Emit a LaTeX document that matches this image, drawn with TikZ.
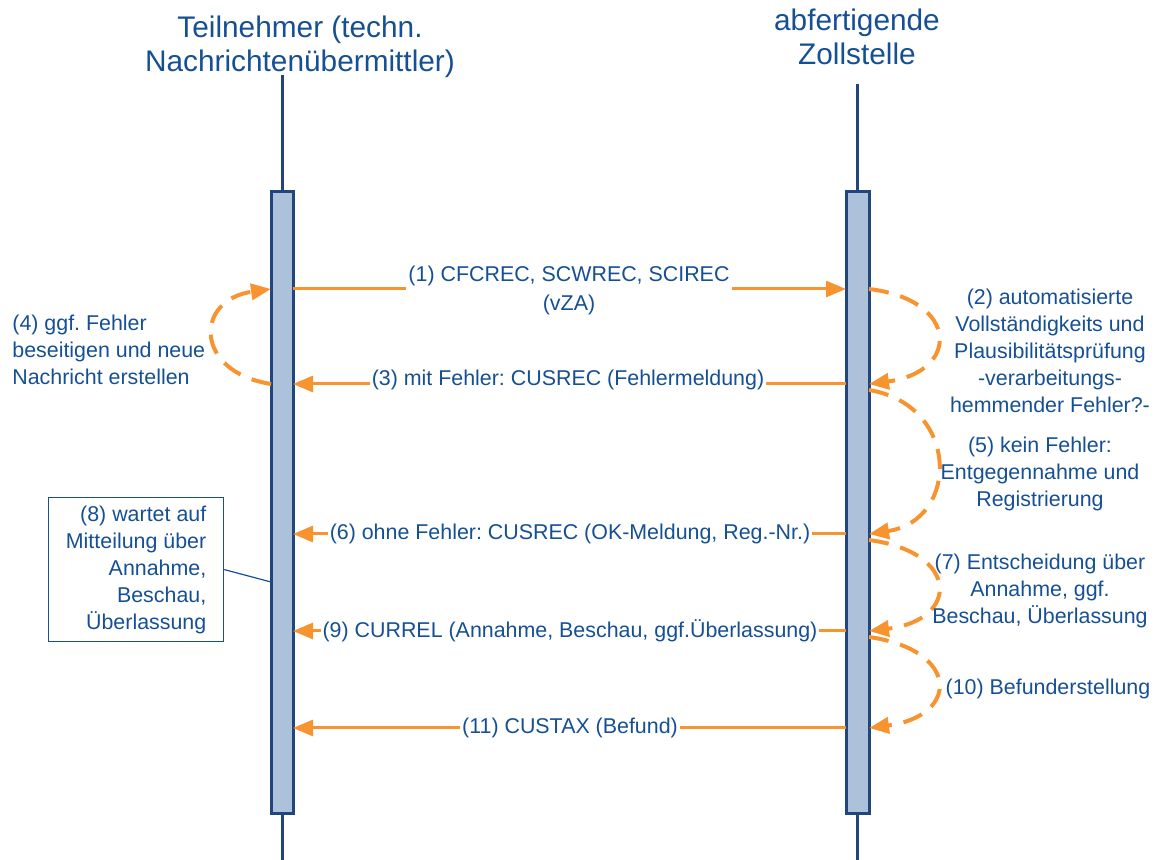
\documentclass[tikz,border=0pt]{standalone}
\usepackage{fontspec}
\setmainfont{Liberation Sans}
\usetikzlibrary{arrows.meta}
\frenchspacing
\definecolor{ctext}{RGB}{22,80,148}
\definecolor{cline}{RGB}{33,70,125}
\definecolor{cfill}{RGB}{174,193,218}
\definecolor{corange}{RGB}{247,148,48}
\begin{document}
\begin{tikzpicture}[x=0.5pt, y=-0.5pt,
  lifeline/.style={draw=cline, line width=1.5pt},
  actbox/.style={draw=cline, fill=cfill, line width=1.5pt},
  msg/.style={draw=corange, line width=1.5pt, -{Triangle[length=10pt,width=8pt]}},
  selfmsg/.style={draw=corange, line width=2pt, dash pattern=on 10pt off 6pt,
    -{Triangle[length=10pt,width=8pt]}},
  lbl/.style={text=ctext, font=\fontsize{10.7}{14.5}\selectfont, align=center,
    fill=white, inner sep=1pt},
  side/.style={text=ctext, font=\fontsize{10.7}{13.5}\selectfont, align=center,
    inner sep=0pt},
  title/.style={text=ctext, font=\fontsize{14.9}{17.2}\selectfont, align=center}]
  \useasboundingbox (0,0) rectangle (1174,860);

  % participants
  \node[title] (tn) at (300,47) {Teilnehmer (techn.\\Nachrichtenübermittler)};
  \node[title] (zs) at (857,37) {abfertigende\\Zollstelle};

  % lifelines
  \draw[lifeline] (282,75) -- (282,860);
  \draw[lifeline] (857,84) -- (857,860);
  \draw[actbox] (271,192) rectangle (293,814);
  \draw[actbox] (846,192) rectangle (869,814);

  % anchor points on the boxes
  \foreach \y in {289,384,534,631,728} {
    \coordinate (l\y) at (293,\y);
    \coordinate (r\y) at (846,\y);
    \coordinate (lo\y) at (271,\y);
    \coordinate (ro\y) at (869,\y);
  }
  \coordinate (ro390) at (869,390);
  \coordinate (ro540) at (869,540);
  \coordinate (ro637) at (869,637);

  % messages
  \draw[msg] (l289) -- (r289);
  \node[lbl] (m1) at (569,290) {(1) CFCREC, SCWREC, SCIREC\\(vZA)};
  \draw[msg] (r384) -- (l384);
  \node[lbl] (m3) at (568,380) {(3) mit Fehler: CUSREC (Fehlermeldung)};
  \draw[msg] (r534) -- (l534);
  \node[lbl] (m6) at (570,534) {(6) ohne Fehler: CUSREC (OK-Meldung, Reg.-Nr.)};
  \draw[msg] (r631) -- (l631);
  \node[lbl] (m9) at (570,631) {(9) CURREL (Annahme, Beschau, ggf.Überlassung)};
  \draw[msg] (r728) -- (l728);
  \node[lbl] (m11) at (570,728) {(11) CUSTAX (Befund)};

  % self loops
  \draw[selfmsg] (lo384) .. controls (194,372) and (194,300) .. (lo289);
  \draw[selfmsg] (ro289) .. controls (960,300) and (960,372) .. (ro384);
  \draw[selfmsg] (ro390) .. controls (960,405) and (960,520) .. (ro534);
  \draw[selfmsg] (ro540) .. controls (960,552) and (960,620) .. (ro631);
  \draw[selfmsg] (ro637) .. controls (960,650) and (960,716) .. (ro728);

  % loop texts
  \node[side, align=left, anchor=west] (s4) at (12,350)
    {(4) ggf. Fehler\\beseitigen und neue\\Nachricht erstellen};
  \node[side] (s2) at (1050,351) {(2) automatisierte\\Vollständigkeits und\\Plausibilitätsprüfung\\-verarbeitungs-\\hemmender Fehler?-};
  \node[side] (s5) at (1040,474) {(5) kein Fehler:\\Entgegennahme und\\Registrierung};
  \node[side] (s7) at (1040,591) {(7) Entscheidung über\\Annahme, ggf.\\Beschau, Überlassung};
  \node[side] (s10) at (1048,689) {(10) Befunderstellung};

  % note
  \node[side, align=right, draw=ctext, line width=0.6pt, inner sep=4pt,
    minimum width=175pt*0.5, minimum height=141pt*0.5, anchor=north west]
    (n8) at (48,497) {(8) wartet auf\\Mitteilung über\\Annahme,\\Beschau,\\Überlassung};
  \coordinate (n8t) at (271,582);
  \draw[ctext, line width=0.6pt] (n8.east) -- (n8t);
\end{tikzpicture}
\end{document}
